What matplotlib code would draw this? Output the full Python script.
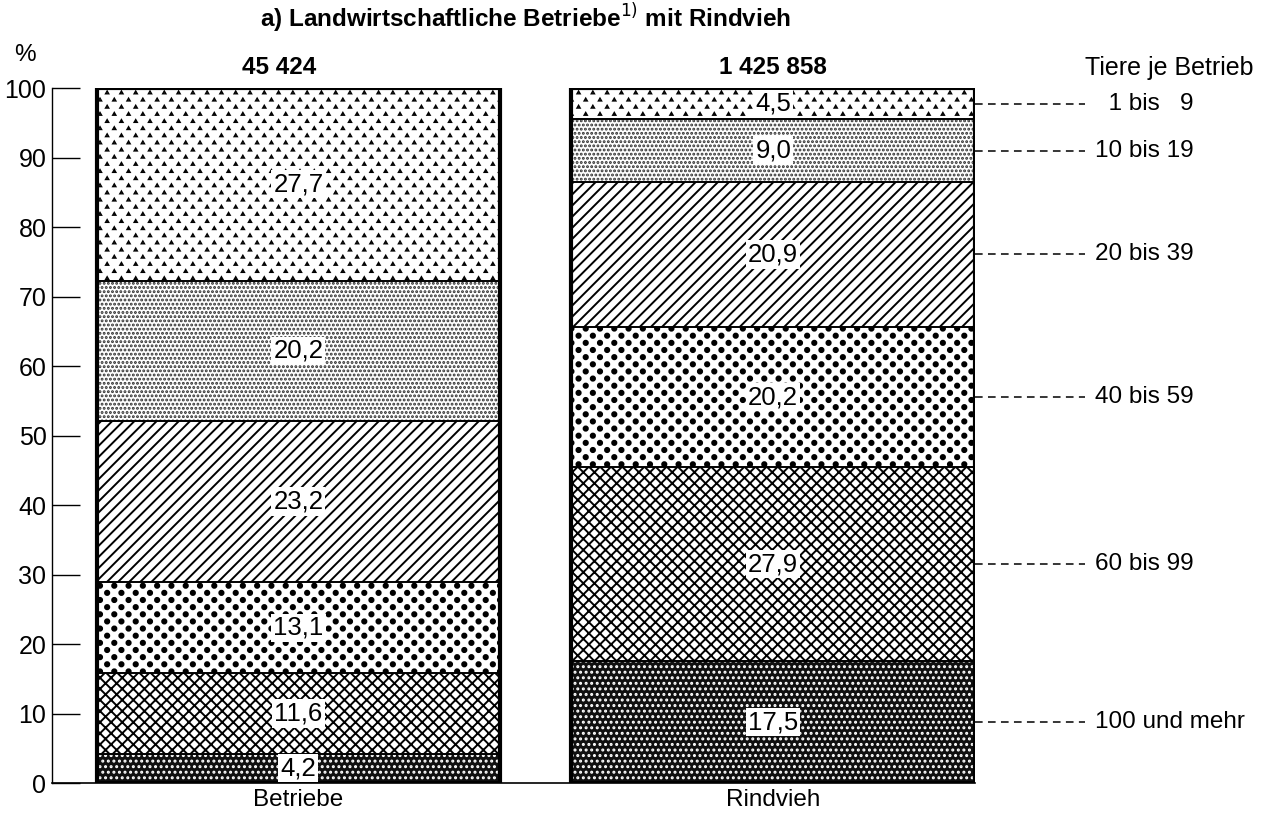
import warnings
import matplotlib
matplotlib.use('Agg')
import matplotlib.pyplot as plt
import matplotlib.hatch as mhatch
from matplotlib.path import Path
import numpy as np

warnings.filterwarnings('ignore')

# font like the printed original (Arial)
plt.rcParams['font.family'] = ['Liberation Sans', 'DejaVu Sans']
plt.rcParams['hatch.linewidth'] = 1.4


# staggered lattice of small filled shapes (the printed screens of the original)
class Lattice(mhatch.HatchPatternBase):
    char = None
    cols = 7
    radius = 0.02
    shape = Path.unit_circle()

    def __init__(self, hatch, density):
        self.num_vertices = 0
        if self.char not in hatch:
            return
        base = self.shape.vertices * self.radius
        nrows = 2 * self.cols
        vs, cs = [], []
        for r in range(nrows + 1):
            if r % 2 == 0:
                xs = np.arange(self.cols + 1) / self.cols
            else:
                xs = (np.arange(self.cols) + 0.5) / self.cols
            for x in xs:
                vs.append(base + [x, r / nrows])
                cs.append(self.shape.codes)
        self.verts = np.concatenate(vs)
        self.codes = np.concatenate(cs)
        self.num_vertices = len(self.verts)

    def set_vertices_and_codes(self, vertices, codes):
        vertices[:] = self.verts
        codes[:] = self.codes


class BigDots(Lattice):
    char = 'b'
    radius = 0.021


class Triangles(Lattice):
    char = 'v'
    radius = 0.013
    shape = Path.unit_regular_polygon(3)


mhatch._hatch_types.extend([BigDots, Triangles])

# data, bottom segment first
groups = ['Betriebe', 'Rindvieh']
totals = ['45 424', '1 425 858']
classes = ['100 und mehr', '60 bis 99', '40 bis 59', '20 bis 39', '10 bis 19', '  1 bis   9']
betriebe = [4.2, 11.6, 13.1, 23.2, 20.2, 27.7]
rindvieh = [17.5, 27.9, 20.2, 20.9, 9.0, 4.5]
hatches = ['...', 'xxx', 'b', '///', '....', 'v']
hatch_colors = ['white', 'black', 'black', 'black', '#303030', 'black']
face_colors = ['#101010', 'white', 'white', 'white', 'white', 'white']

values = [betriebe, rindvieh]
pos = np.arange(len(groups))
width = 0.85

fig = plt.figure(figsize=(12.66, 8.13), dpi=100)
ax = fig.add_axes([52 / 1266, 30 / 813, (975 - 52) / 1266, (783 - 88) / 813])

for i, vals in enumerate(values):
    bottoms = np.concatenate([[0], np.cumsum(vals)[:-1]])
    for j, v in enumerate(vals):
        # hatched fill
        ax.bar(pos[i], v, width, bottom=bottoms[j], color=face_colors[j],
               edgecolor=hatch_colors[j], hatch=hatches[j], linewidth=0, zorder=1)
        # thin separator outline
        ax.bar(pos[i], v, width, bottom=bottoms[j], fill=False,
               edgecolor='black', linewidth=1.2, zorder=2)
        ax.text(pos[i], bottoms[j] + v / 2, f'{v:.1f}'.replace('.', ','),
                ha='center', va='center', fontsize=18.5, zorder=4,
                bbox=dict(facecolor='white', edgecolor='none', pad=1.5))
    # thick outer border
    ax.bar(pos[i], sum(vals), width, fill=False, edgecolor='black',
           linewidth=3.0, zorder=3)
    ax.text(pos[i], -2.5, groups[i], ha='center', va='center', fontsize=17.5)

# totals above the bars (the first one sits a little left of centre in the print)
ax.text(pos[0] - 0.04, 102.9, totals[0], ha='center', va='center',
        fontsize=17.5, fontweight='bold')
ax.text(pos[1], 102.9, totals[1], ha='center', va='center',
        fontsize=17.5, fontweight='bold')

# legend on the right, pointing to the middle of each Rindvieh segment
x_edge = pos[1] + width / 2
mids = np.cumsum(rindvieh) - np.array(rindvieh) / 2
for m, lab in zip(mids, classes):
    ax.plot([x_edge, x_edge + 0.232], [m, m], color='black', lw=1.1,
            dashes=(5, 3.5), clip_on=False)
    ax.text(x_edge + 0.252, m, lab, ha='left', va='center', fontsize=17.5)
ax.text(x_edge + 0.232, 102.9, 'Tiere je Betrieb', ha='left', va='center', fontsize=18)

ax.set_xlim(-0.519, x_edge)
ax.set_ylim(0, 100)
ax.set_yticks(np.arange(0, 101, 10))
ax.tick_params(axis='y', direction='in', length=20, width=1.0, labelsize=18, pad=4)
ax.set_xticks([])
for s in ['top', 'right']:
    ax.spines[s].set_visible(False)
ax.spines['left'].set_linewidth(1.0)
ax.spines['bottom'].set_linewidth(1.2)

ax.text(-0.576, 104.7, '%', ha='center', va='center', fontsize=17.5)
fig.text(525 / 1266, 1 - 18 / 813, 'a) Landwirtschaftliche Betriebe$^{1)}$ mit Rindvieh',
         ha='center', va='center', fontsize=17.5, fontweight='bold')

fig.savefig('out.png', dpi=100)
